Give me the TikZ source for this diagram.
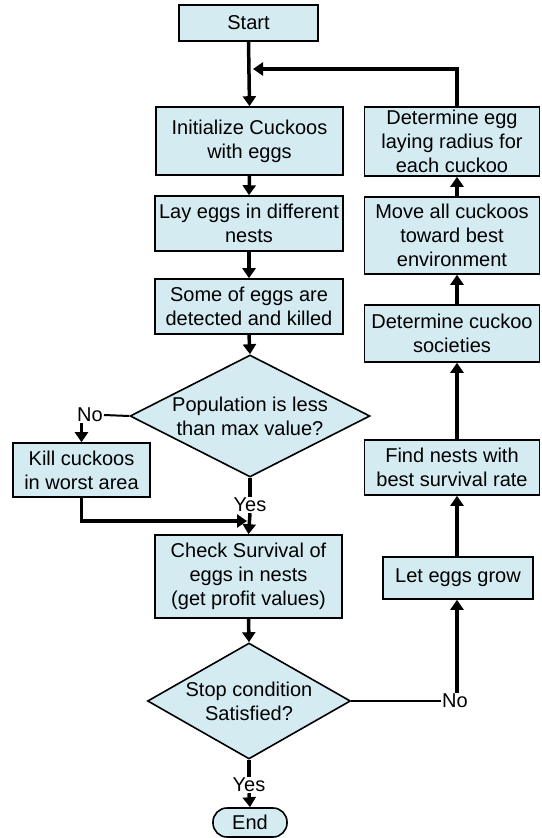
\documentclass[tikz,border=0pt]{standalone}
\usepackage{fontspec}
\setmainfont{Liberation Sans}
\usetikzlibrary{arrows.meta,shapes.geometric}
\definecolor{boxfill}{RGB}{212,235,241}
\tikzset{
  box/.style={draw, line width=1.6pt, fill=boxfill, inner sep=0pt, align=center,
    font=\fontsize{20}{24}\selectfont},
  dia/.style={diamond, draw, line width=1.6pt, fill=boxfill, inner sep=0pt},
  txt/.style={inner sep=0pt, align=center, font=\fontsize{20}{24}\selectfont},
  lbl/.style={inner sep=1pt, font=\fontsize{20}{24}\selectfont},
  flow/.style={line width=3.5pt, -{Triangle[width=13pt,length=10pt]}},
  thick line/.style={line width=3.5pt},
  thin line/.style={line width=2pt}
}
\begin{document}
\begin{tikzpicture}[x=1pt,y=-1pt]
\useasboundingbox (0,0) rectangle (541,838);
% main column
\node[box, minimum width=139pt, minimum height=36pt] (start) at (248.5,23) {Start};
\node[box, minimum width=187pt, minimum height=68pt] (init) at (249.5,141) {Initialize Cuckoos\\with eggs};
\node[box, minimum width=188pt, minimum height=55pt] (lay) at (249,223.5) {Lay eggs in different\\nests};
\node[box, minimum width=188pt, minimum height=55pt] (some) at (249,306.5) {Some of eggs are\\detected and killed};
\node[dia, minimum width=240pt, minimum height=122pt] (d1) at (250,416) {};
\node[txt] (d1t) at (d1.center) {Population is less\\than max value?};
\node[box, minimum width=137pt, minimum height=54pt] (kill) at (81.5,470) {Kill cuckoos\\in worst area};
\node[box, minimum width=187pt, minimum height=83pt] (check) at (248.5,576.5) {Check Survival of\\eggs in nests\\(get profit values)};
\node[dia, minimum width=203pt, minimum height=116pt] (d2) at (249,701) {};
\node[txt] (d2t) at (d2.center) {Stop condition\\Satisfied?};
\node[box, rounded corners=14pt, minimum width=74pt, minimum height=29pt] (end) at (250,822.5) {End};
% right column
\node[box, minimum width=175pt, minimum height=69pt] (radius) at (452,141.5) {Determine egg\\laying radius for\\each cuckoo};
\node[box, minimum width=175pt, minimum height=77pt] (move) at (452,235.5) {Move all cuckoos\\toward best\\environment};
\node[box, minimum width=175pt, minimum height=57pt] (soc) at (452,333.5) {Determine cuckoo\\societies};
\node[box, minimum width=175pt, minimum height=55pt] (find) at (452,467.5) {Find nests with\\best survival rate};
\node[box, minimum width=150pt, minimum height=42pt] (grow) at (458,578) {Let eggs grow};
% labels
\node[lbl] (no1) at (90,415) {No};
\node[lbl] (yes1) at (250,505) {Yes};
\node[lbl] (no2) at (455,701) {No};
\node[lbl] (yes2) at (249,785) {Yes};
\coordinate (join) at (250,69);
\coordinate (merge) at (250,521);
% connectors main column
\draw[flow] (start.south) -- (init.north);
\draw[flow] (init.south) -- (lay.north);
\draw[flow] (lay.south) -- (some.north);
\draw[flow] (some.south) -- (d1.north);
\draw[thin line] (d1.west) -- (no1.east);
\draw[flow] (kill.north |- no1.south) -- (kill.north);
\draw[thick line] (d1.south) -- (yes1.north);
\draw[flow] (kill.south) |- ([xshift=-3pt]merge);
\draw[flow] (yes1.south) -- (check.north);
\draw[flow] (check.south) -- (d2.north);
\draw[thick line] (d2.south) -- (yes2.north);
\draw[flow] (yes2.south) -- (end.north);
% right column
\draw[thin line] (d2.east) -- (no2.west);
\draw[flow] ([xshift=2pt]no2.north) -- ([xshift=-1pt]grow.north |- grow.south);
\draw[flow] ([xshift=-1pt]grow.north) -- ([xshift=5pt]find.south);
\draw[flow] ([xshift=5pt]find.north) -- ([xshift=5pt]soc.south);
\draw[flow] ([xshift=5pt]soc.north) -- ([xshift=5pt]move.south);
\draw[flow] ([xshift=5pt]move.north) -- ([xshift=5pt]radius.south);
\draw[flow] ([xshift=5pt]radius.north) |- ([xshift=3pt]join);
\end{tikzpicture}
\end{document}
